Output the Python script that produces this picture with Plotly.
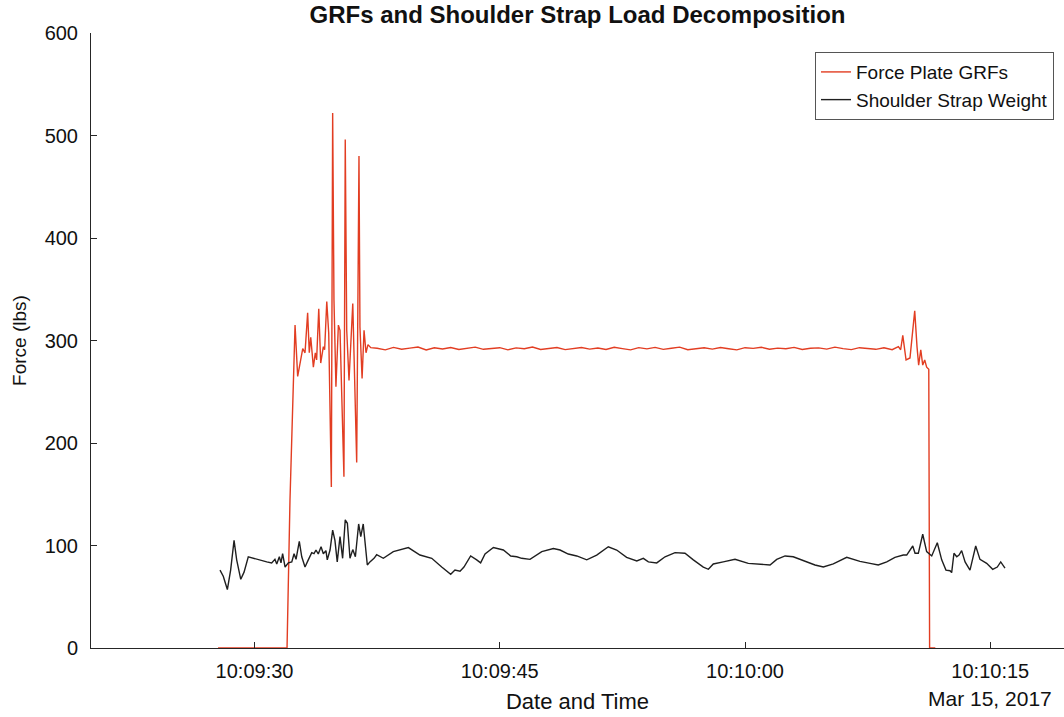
import pandas as pd
import plotly.graph_objects as go

# ---------------- data (seconds after 10:09:00 on Mar 15, 2017) ----------------
BASE = "2017-03-15 10:09:00"

grf_t = [27.77, 31.99, 32.17, 32.48, 32.64, 32.78, 32.95, 33.09, 33.25, 33.35, 33.44,
         33.60, 33.72, 33.80, 33.93, 34.05, 34.21, 34.29, 34.42, 34.54, 34.70, 34.78,
         34.86, 34.98, 35.13, 35.23, 35.47, 35.55, 35.64, 35.78, 36.01, 36.25, 36.39,
         36.45, 36.58, 36.70, 36.82, 36.94, 37.11,
         37.5, 38.0, 38.5, 39.0, 39.5, 40.0, 40.5, 41.0, 41.5, 42.0, 42.5, 43.0, 43.5,
         44.0, 44.5, 45.0, 45.5, 46.0, 46.5, 47.0, 47.5, 48.0, 48.5, 49.0, 49.5, 50.0,
         50.5, 51.0, 51.5, 52.0, 52.5, 53.0, 53.5, 54.0, 54.5, 55.0, 55.5, 56.0, 56.5,
         57.0, 57.5, 58.0, 58.5, 59.0, 59.5, 60.0, 60.5, 61.0, 61.5, 62.0, 62.5, 63.0,
         63.5, 64.0, 64.5, 65.0, 65.5, 66.0, 66.5, 67.0, 67.5, 68.0, 68.5, 69.0,
         69.38, 69.52, 69.65, 69.85, 70.09, 70.23, 70.38, 70.52, 70.62, 70.75, 70.87,
         70.99, 71.11, 71.24, 71.29, 71.64, 75.78]
grf_v = [0, 0, 144, 315, 265, 278, 292, 288, 327, 288, 303,
         274, 288, 281, 331, 278, 294, 291, 338, 307, 157, 522,
         340, 255, 315, 310, 167, 496, 310, 261, 336, 181, 480,
         313, 263, 310, 288, 296, 293,
         292.4, 290.9, 293.3, 291.5, 292.6, 293.6, 290.8, 292.9, 291.7, 293.2, 291.2,
         292.6, 293.5, 291.4, 292.2, 293.0, 290.9, 292.8, 291.9, 293.6, 291.3, 292.5,
         293.2, 291.1, 292.3, 293.1, 291.6, 292.7, 291.2, 293.4, 292.1, 290.9, 293.0,
         291.8, 293.3, 291.4, 292.5, 293.5, 291.0, 292.3, 292.9, 291.6, 293.2, 292.0,
         290.9, 293.0, 292.3, 293.4, 291.5, 292.6, 291.9, 293.3, 291.2, 292.4, 292.8,
         291.6, 293.5, 292.1, 291.1, 293.0, 292.3, 291.4, 292.9,
         291, 294, 291, 305, 281, 283, 309, 329, 294, 276, 291,
         276, 281, 274, 272, 0, 0]

strap_t = [27.89, 28.09, 28.34, 28.54, 28.75, 28.91, 29.16, 29.36, 29.62, 29.93,
           30.34, 30.75, 31.05, 31.25, 31.36, 31.52, 31.62, 31.72, 31.87, 32.07,
           32.28, 32.42, 32.54, 32.74, 32.89, 33.09, 33.29, 33.50, 33.64, 33.76,
           33.90, 34.07, 34.21, 34.37, 34.45, 34.62, 34.78, 34.92, 35.06, 35.23,
           35.39, 35.55, 35.68, 35.84, 36.01, 36.17, 36.37, 36.50, 36.65, 36.78,
           36.90, 37.06, 37.31, 37.47, 37.88, 38.49, 39.41, 40.12, 40.84, 41.45,
           42.00, 42.26, 42.57, 42.81, 43.22, 43.59, 43.83, 44.10, 44.61, 45.22,
           45.67, 46.04, 46.34, 46.85, 47.57, 48.28, 48.69, 49.19, 49.71, 50.32,
           50.93, 51.64, 52.15, 52.76, 53.38, 53.78, 54.09, 54.60, 55.11, 55.72,
           56.33, 56.84, 57.45, 57.76, 58.06, 58.67, 59.39, 60.20, 60.92, 61.53,
           61.94, 62.45, 62.95, 63.67, 64.28, 64.79, 65.40, 66.22, 67.03, 67.65,
           68.15, 68.67, 69.17, 69.68, 69.89, 70.26, 70.40, 70.60, 70.87, 71.11,
           71.42, 71.76, 72.03, 72.29, 72.54, 72.64, 72.78, 72.95, 73.09, 73.25,
           73.46, 73.76, 74.11, 74.37, 74.78, 75.15, 75.43, 75.64, 75.90]
strap_v = [76, 70, 57, 76, 105, 86, 67, 74, 89, 87.5,
           86, 84, 83, 86.5, 82, 89, 83, 92, 79, 83,
           84, 92, 86.5, 104, 89, 79, 86, 93, 92, 95.6,
           91.7, 98.8, 92, 95, 86, 95.6, 115, 105, 84, 108.6,
           87.5, 125, 121.7, 87.5, 96, 89, 121, 108.6, 121, 98.8,
           81, 84, 87.5, 91, 87.5, 94, 98, 90.7, 87.5, 79,
           72, 76, 75, 79, 89.8, 86, 83, 91.7, 98, 95.6,
           89.8, 89, 87.5, 86.5, 94, 97, 95.6, 91.7, 89.8, 86,
           90.7, 98.8, 95.6, 88.5, 85, 87.5, 84, 83, 89, 93,
           92.4, 86, 79, 76.8, 82, 84, 86.5, 82.6, 82, 81,
           86.5, 89.8, 89, 85, 81, 79, 82, 88.5, 84.5, 82.6,
           81, 84, 88.5, 90.7, 90.7, 99.5, 92.4, 92.4, 111, 94,
           89.8, 102.7, 86, 76, 75.4, 73.5, 92.4, 89, 90.7, 95,
           84, 76, 99.5, 86.5, 82.6, 76.8, 79, 84, 78]

x_range_s = [20.0, 79.51]
y_ticks = [0, 100, 200, 300, 400, 500, 600]

# ---------------- figure ----------------
base = pd.Timestamp(BASE)
def to_time(secs):
    return base + pd.to_timedelta(pd.Series(secs, dtype=float), unit="s")

AX = "#262626"
TXT = "#111111"
FONT = "Liberation Sans, Arial, sans-serif"

fig = go.Figure()
fig.add_trace(go.Scatter(
    x=to_time(grf_t), y=grf_v, mode="lines", name="Force Plate GRFs",
    line=dict(color="#e23d22", width=1.4)))
fig.add_trace(go.Scatter(
    x=to_time(strap_t), y=strap_v, mode="lines", name="Shoulder Strap Weight",
    line=dict(color="#1f1f1f", width=1.4)))

xr = to_time(x_range_s)
fig.update_layout(
    width=1064, height=717,
    margin=dict(l=91, r=0, t=33, b=69),
    paper_bgcolor="white", plot_bgcolor="white",
    font=dict(family=FONT, color=AX),
    title=dict(text="<b>GRFs and Shoulder Strap Load Decomposition</b>",
               font=dict(size=24, color=TXT),
               x=0.5, xref="paper", xanchor="center",
               y=1, yref="container", yanchor="top", pad=dict(t=6)),
    showlegend=True,
    legend=dict(x=0.9897, y=0.969, xanchor="right", yanchor="top",
                bgcolor="white", bordercolor="#555555", borderwidth=1,
                font=dict(size=19, color=TXT),
                tracegroupgap=0),
)
fig.update_xaxes(
    type="date", range=[xr.iloc[0], xr.iloc[1]],
    tick0=BASE, dtick=15000, tickformat="%H:%M:%S",
    showgrid=False, zeroline=False,
    showline=True, linecolor=AX, linewidth=1,
    ticks="inside", ticklen=6, tickcolor=AX,
    tickfont=dict(size=20, color=TXT), ticklabelstandoff=5,
    title=dict(text="Date and Time", font=dict(size=22, color=TXT), standoff=12),
)
fig.update_yaxes(
    range=[0, 600], tickvals=y_ticks,
    showgrid=False, zeroline=False,
    showline=True, linecolor=AX, linewidth=1,
    ticks="inside", ticklen=6, tickcolor=AX,
    tickfont=dict(size=20, color=TXT), ticklabelstandoff=8,
    title=dict(text="Force (lbs)", font=dict(size=19, color=TXT), standoff=12),
)
fig.add_annotation(
    x=xr.iloc[0] + pd.Timedelta(seconds=55), y=0, xref="x", yref="paper",
    text="Mar 15, 2017", showarrow=False, yanchor="top", xanchor="center",
    yshift=-37, font=dict(size=21, color=TXT))

fig.write_html("out.html")
